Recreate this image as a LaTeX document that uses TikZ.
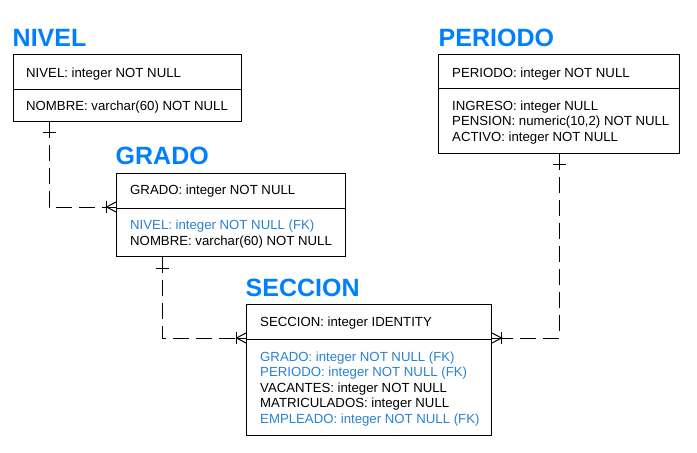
\documentclass[tikz,border=0pt]{standalone}
\usepackage{fontspec}
\setmainfont{Liberation Sans}
\usetikzlibrary{calc}
\definecolor{titleblue}{RGB}{0,128,255}
\definecolor{fkblue}{RGB}{40,130,210}
\tikzset{
  tbl/.style={draw=black, line width=1pt, fill=white, inner sep=0pt, anchor=north west},
  ttl/.style={anchor=base west, inner sep=0pt, text=titleblue, font=\fontsize{25}{25}\selectfont\bfseries},
  fld/.style={anchor=base west, inner sep=0pt, font=\fontsize{13.2}{16}\selectfont},
  fk/.style={fld, text=fkblue},
  rel/.style={draw=black, line width=1pt, dash pattern=on 16pt off 7pt},
  mark1/.style={draw=black, line width=1pt},
}
\begin{document}
\begin{tikzpicture}[x=1pt,y=-1pt]
\useasboundingbox (0,0) rectangle (697,453);
% ---------- NIVEL
\node[ttl] (tnivel) at (12.5,46) {NIVEL};
\node[tbl, minimum width=228pt, minimum height=67pt] (nivel) at (13,54) {};
\draw[mark1] ([yshift=-35pt]nivel.north west) -- ([yshift=-35pt]nivel.north east);
\node[fld] (n1) at (26,77) {NIVEL: integer NOT NULL};
\node[fld] (n2) at (26,110.5) {NOMBRE: varchar(60) NOT NULL};
% ---------- GRADO
\node[ttl] (tgrado) at (115.5,164) {GRADO};
\node[tbl, minimum width=229pt, minimum height=83pt] (grado) at (116,173) {};
\draw[mark1] ([yshift=-35pt]grado.north west) -- ([yshift=-35pt]grado.north east);
\node[fld] (g1) at (130,194.5) {GRADO: integer NOT NULL};
\node[fk] (g2) at (130,229) {NIVEL: integer NOT NULL (FK)};
\node[fld] (g3) at (130,245) {NOMBRE: varchar(60) NOT NULL};
% ---------- SECCION
\node[ttl] (tseccion) at (245.5,296) {SECCION};
\node[tbl, minimum width=245pt, minimum height=131pt] (seccion) at (246,304) {};
\draw[mark1] ([yshift=-35pt]seccion.north west) -- ([yshift=-35pt]seccion.north east);
\node[fld] (s1) at (260,326) {SECCION: integer IDENTITY};
\node[fk] (s2) at (260,361) {GRADO: integer NOT NULL (FK)};
\node[fk] (s3) at (260,376.5) {PERIODO: integer NOT NULL (FK)};
\node[fld] (s4) at (260,392) {VACANTES: integer NOT NULL};
\node[fld] (s5) at (260,407.5) {MATRICULADOS: integer NULL};
\node[fk] (s6) at (260,423) {EMPLEADO: integer NOT NULL (FK)};
% ---------- PERIODO
\node[ttl] (tperiodo) at (438.5,46) {PERIODO};
\node[tbl, minimum width=241pt, minimum height=99pt] (periodo) at (438,54) {};
\draw[mark1] ([yshift=-34pt]periodo.north west) -- ([yshift=-34pt]periodo.north east);
\node[fld] (p1) at (452,77) {PERIODO: integer NOT NULL};
\node[fld] (p2) at (452,110) {INGRESO: integer NULL};
\node[fld] (p3) at (452,125.5) {PENSION: numeric(10,2) NOT NULL};
\node[fld] (p4) at (452,141) {ACTIVO: integer NOT NULL};
% ---------- connector end points
\coordinate (cn) at ([xshift=36pt]nivel.south west);
\coordinate (cg) at ([yshift=-34pt]grado.north west);
\coordinate (cg2) at ([xshift=46pt]grado.south west);
\coordinate (cs) at ([yshift=-34pt]seccion.north west);
\coordinate (cp) at ([xshift=121pt]periodo.south west);
\coordinate (cs2) at ([yshift=-34pt]seccion.north east);
% ---------- NIVEL -> GRADO
\draw[rel] (cn) |- (cg);
\draw[mark1] ($(cn)+(-6.5,10)$) -- ++(13,0);
\draw[mark1] ($(cg)+(-9.5,-6)$) -- ++(0,12);
\draw[mark1] ($(cg)+(0,-5)$) -- ($(cg)+(-9.5,0)$) -- ($(cg)+(0,5)$);
\draw[mark1] ($(cg)+(-9.5,0)$) -- (cg);
% ---------- GRADO -> SECCION
\draw[rel] (cg2) |- (cs);
\draw[mark1] ($(cg2)+(-6.5,11)$) -- ++(13,0);
\draw[mark1] ($(cs)+(-9.5,-6)$) -- ++(0,12);
\draw[mark1] ($(cs)+(0,-5)$) -- ($(cs)+(-9.5,0)$) -- ($(cs)+(0,5)$);
\draw[mark1] ($(cs)+(-9.5,0)$) -- (cs);
% ---------- PERIODO -> SECCION
\draw[rel] (cp) |- (cs2);
\draw[mark1] ($(cp)+(-6.5,10)$) -- ++(13,0);
\draw[mark1] ($(cs2)+(9.5,-6)$) -- ++(0,12);
\draw[mark1] ($(cs2)+(0,-5)$) -- ($(cs2)+(9.5,0)$) -- ($(cs2)+(0,5)$);
\draw[mark1] ($(cs2)+(9.5,0)$) -- (cs2);
\end{tikzpicture}
\end{document}
